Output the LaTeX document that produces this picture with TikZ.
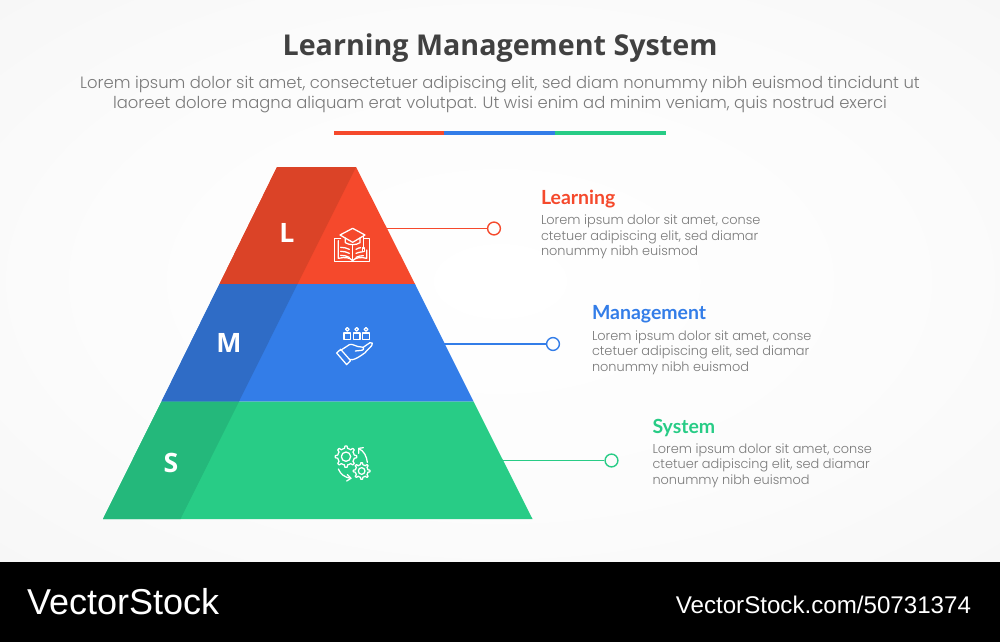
\documentclass[tikz,border=0pt]{standalone}
\usepackage{fontspec}
\setmainfont{Poppins}
\newfontfamily\pop{Poppins}[UprightFont=* Light]
\newfontfamily\ttl{Open Sans}[UprightFont=* Bold,BoldFont=* Bold]
\newfontfamily\lab{Lato}[UprightFont=* Bold,BoldFont=* Bold]
\newfontfamily\ftr{Liberation Sans}
\usetikzlibrary{arrows.meta}
\definecolor{cred}{HTML}{F5492C}\definecolor{dred}{HTML}{DB4327}
\definecolor{cblue}{HTML}{337DE8}\definecolor{dblue}{HTML}{2F6CC6}
\definecolor{cgreen}{HTML}{28CC86}\definecolor{dgreen}{HTML}{24B87B}
\definecolor{bodygray}{HTML}{7A7A7A}\definecolor{titlegray}{HTML}{414141}
\definecolor{bgA}{HTML}{FCFCFC}\definecolor{bgB}{HTML}{F5F5F5}\definecolor{bgedge}{HTML}{EFF0F0}
\pgfdeclareradialshading{pagebg}{\pgfpoint{0bp}{0bp}}{color(0bp)=(white); color(20bp)=(bgA); color(42bp)=(bgB); color(60bp)=(bgedge); color(100bp)=(bgedge)}
\tikzset{
  px/.style={inner sep=0pt,outer sep=0pt},
  titletext/.style={px,font=\ttl\fontsize{21.5}{26}\selectfont,text=titlegray},
  introtext/.style={px,font=\pop\fontsize{12.3}{15}\selectfont,text=bodygray,align=center},
  headtext/.style={px,anchor=west,font=\lab\fontsize{14.6}{17}\selectfont},
  desctext/.style={px,anchor=north west,align=left,font=\pop\fontsize{9.67}{11.6}\selectfont,text=bodygray},
  lettertext/.style={px,font=\ttl\fontsize{20}{24}\selectfont,text=white},
  dot/.style={circle,draw=#1,line width=1.05pt,minimum size=9.6pt,inner sep=0pt,fill=none},
  leader/.style={draw=#1,line width=1pt},
  icon/.style={draw=white,line width=0.95pt,line join=round,line cap=round},
}
\begin{document}
\begin{tikzpicture}[x=0.75pt,y=-0.75pt]
\useasboundingbox (0,0) rectangle (1000,642);
\shade[shading=pagebg] (0,0) rectangle (1000,562);
\fill[black] (0,562) rectangle (1000,642);

\node[titletext] (title) at (500,48) {Learning Management System};
\node[introtext] (intro) at (500,94.5) {Lorem ipsum dolor sit amet, consectetuer adipiscing elit, sed diam nonummy nibh euismod tincidunt ut\\laoreet dolore magna aliquam erat volutpat. Ut wisi enim ad minim veniam, quis nostrud exerci};

\fill[cred] (334,130.7) rectangle (444,134.7);
\fill[cblue] (444,130.7) rectangle (555,134.7);
\fill[cgreen] (555,130.7) rectangle (666,134.7);

% pyramid
\fill[cred] (277,167) -- (356,167) -- (415,284) -- (219.5,284) -- cycle;
\fill[cblue] (219.5,284) -- (415,284) -- (473.5,401.5) -- (161.5,401.5) -- cycle;
\fill[cgreen] (161.5,401.5) -- (473.5,401.5) -- (532.5,519) -- (103,519) -- cycle;
\fill[dred] (277,167) -- (356,167) -- (297.5,284) -- (219.5,284) -- cycle;
\fill[dblue] (219.5,284) -- (297.5,284) -- (239,401.5) -- (161.5,401.5) -- cycle;
\fill[dgreen] (161.5,401.5) -- (239,401.5) -- (180.5,519) -- (103,519) -- cycle;

\node[lettertext] (L) at (287,233) {L};
\node[lettertext] (M) at (229,343) {M};
\node[lettertext] (S) at (171,463) {S};

% connectors
\coordinate (tierL) at (387,228.5);
\coordinate (tierM) at (444,344);
\coordinate (tierS) at (503,460.5);
\node[dot=cred] (dotL) at (494,228.5) {};
\node[dot=cblue] (dotM) at (553,344) {};
\node[dot=cgreen] (dotS) at (611.5,460.5) {};
\draw[leader=cred] (tierL) -- (dotL);
\draw[leader=cblue] (tierM) -- (dotM);
\draw[leader=cgreen] (tierS) -- (dotS);

% labels
\node[headtext,text=cred] (hL) at (541,199.5) {Learning};
\node[desctext] (dL) at (541,215) {Lorem ipsum dolor sit amet, conse\\ctetuer adipiscing elit, sed diamar\\nonummy nibh euismod};
\node[headtext,text=cblue] (hM) at (592,314.5) {Management};
\node[desctext] (dM) at (592,330.5) {Lorem ipsum dolor sit amet, conse\\ctetuer adipiscing elit, sed diamar\\nonummy nibh euismod};
\node[headtext,text=cgreen] (hS) at (652.5,428) {System};
\node[desctext] (dS) at (652.5,443.5) {Lorem ipsum dolor sit amet, conse\\ctetuer adipiscing elit, sed diamar\\nonummy nibh euismod};

% book icon
\begin{scope}[shift={(320,210)},x=0.25pt,y=-0.25pt,icon]
\draw (62,85) -- (44,85) -- (44,155) -- (148,155) -- (148,85) -- (132,85);
\draw (55,92) -- (55,145) .. controls (75,140) and (90,143) .. (98,152) .. controls (106,143) and (122,140) .. (140,145) -- (140,120);
\draw (98,105) -- (98,152);
\draw (98,55) -- (60,75) -- (98,97) -- (135,75) -- cycle;
\draw (76,84) -- (76,98) .. controls (88,106) and (108,106) .. (120,98) -- (120,84);
\draw (130,78) -- (130,112);
\draw (127,114) -- (127,124) -- (133,124) -- (133,114) -- cycle;
\draw (62,112) .. controls (72,112) and (80,114) .. (88,118);
\draw (62,124) .. controls (72,124) and (80,126) .. (88,130);
\draw (62,136) .. controls (72,136) and (80,138) .. (88,142);
\draw (108,118) .. controls (114,114) and (118,114) .. (122,113);
\draw (108,130) .. controls (114,127) and (122,126) .. (130,125);
\draw (108,142) .. controls (114,139) and (122,137) .. (130,137);
\end{scope}

% hand icon
\begin{scope}[shift={(320,315)},x=0.25pt,y=-0.25pt,icon]
\foreach \cx in {82,110,138}{
  \draw (\cx,43) circle (5.5);
  \draw (\cx-10,54) rectangle (\cx+10,73);
}
\draw (50,114) -- (62,103) -- (92,137) -- (80,149) -- cycle;
\draw (62,106) -- (88,89) .. controls (98,84) and (108,97) .. (125,96) .. controls (133,96) and (133,105) .. (125,106) -- (106,108);
\draw (128,98) -- (150,83) .. controls (157,80) and (160,87) .. (155,92) -- (134,114) .. controls (120,124) and (108,132) .. (98,134) -- (88,133);
\end{scope}

% gears icon
\begin{scope}[shift={(320,435)},x=0.25pt,y=-0.25pt,icon]
\draw[shift={(78,65)}] plot[samples=65,domain=0:360] (\x:{25+7*(cos(8*\x)>0)}) -- cycle;
\draw (78,65) circle (14);
\draw[shift={(125,108)}] plot[samples=65,domain=0:360] (\x:{19+6*(cos(8*\x)>0)}) -- cycle;
\draw (125,108) circle (10);
\draw (142,82) .. controls (140,64) and (132,48) .. (117,41);
\draw (116,55) -- (116,40) -- (130,38);
\draw (55,102) .. controls (62,118) and (74,127) .. (92,130);
\draw (82,119) -- (93,130) -- (80,138);
\end{scope}

% footer
\node[px,anchor=west,text=white,font=\ftr\fontsize{27}{30}\selectfont] (brand) at (27,601.5) {VectorStock};
\node[px,anchor=east,text=white,font=\ftr\fontsize{18.1}{20}\selectfont] (url) at (971,604.5) {VectorStock.com/50731374};
\end{tikzpicture}
\end{document}
